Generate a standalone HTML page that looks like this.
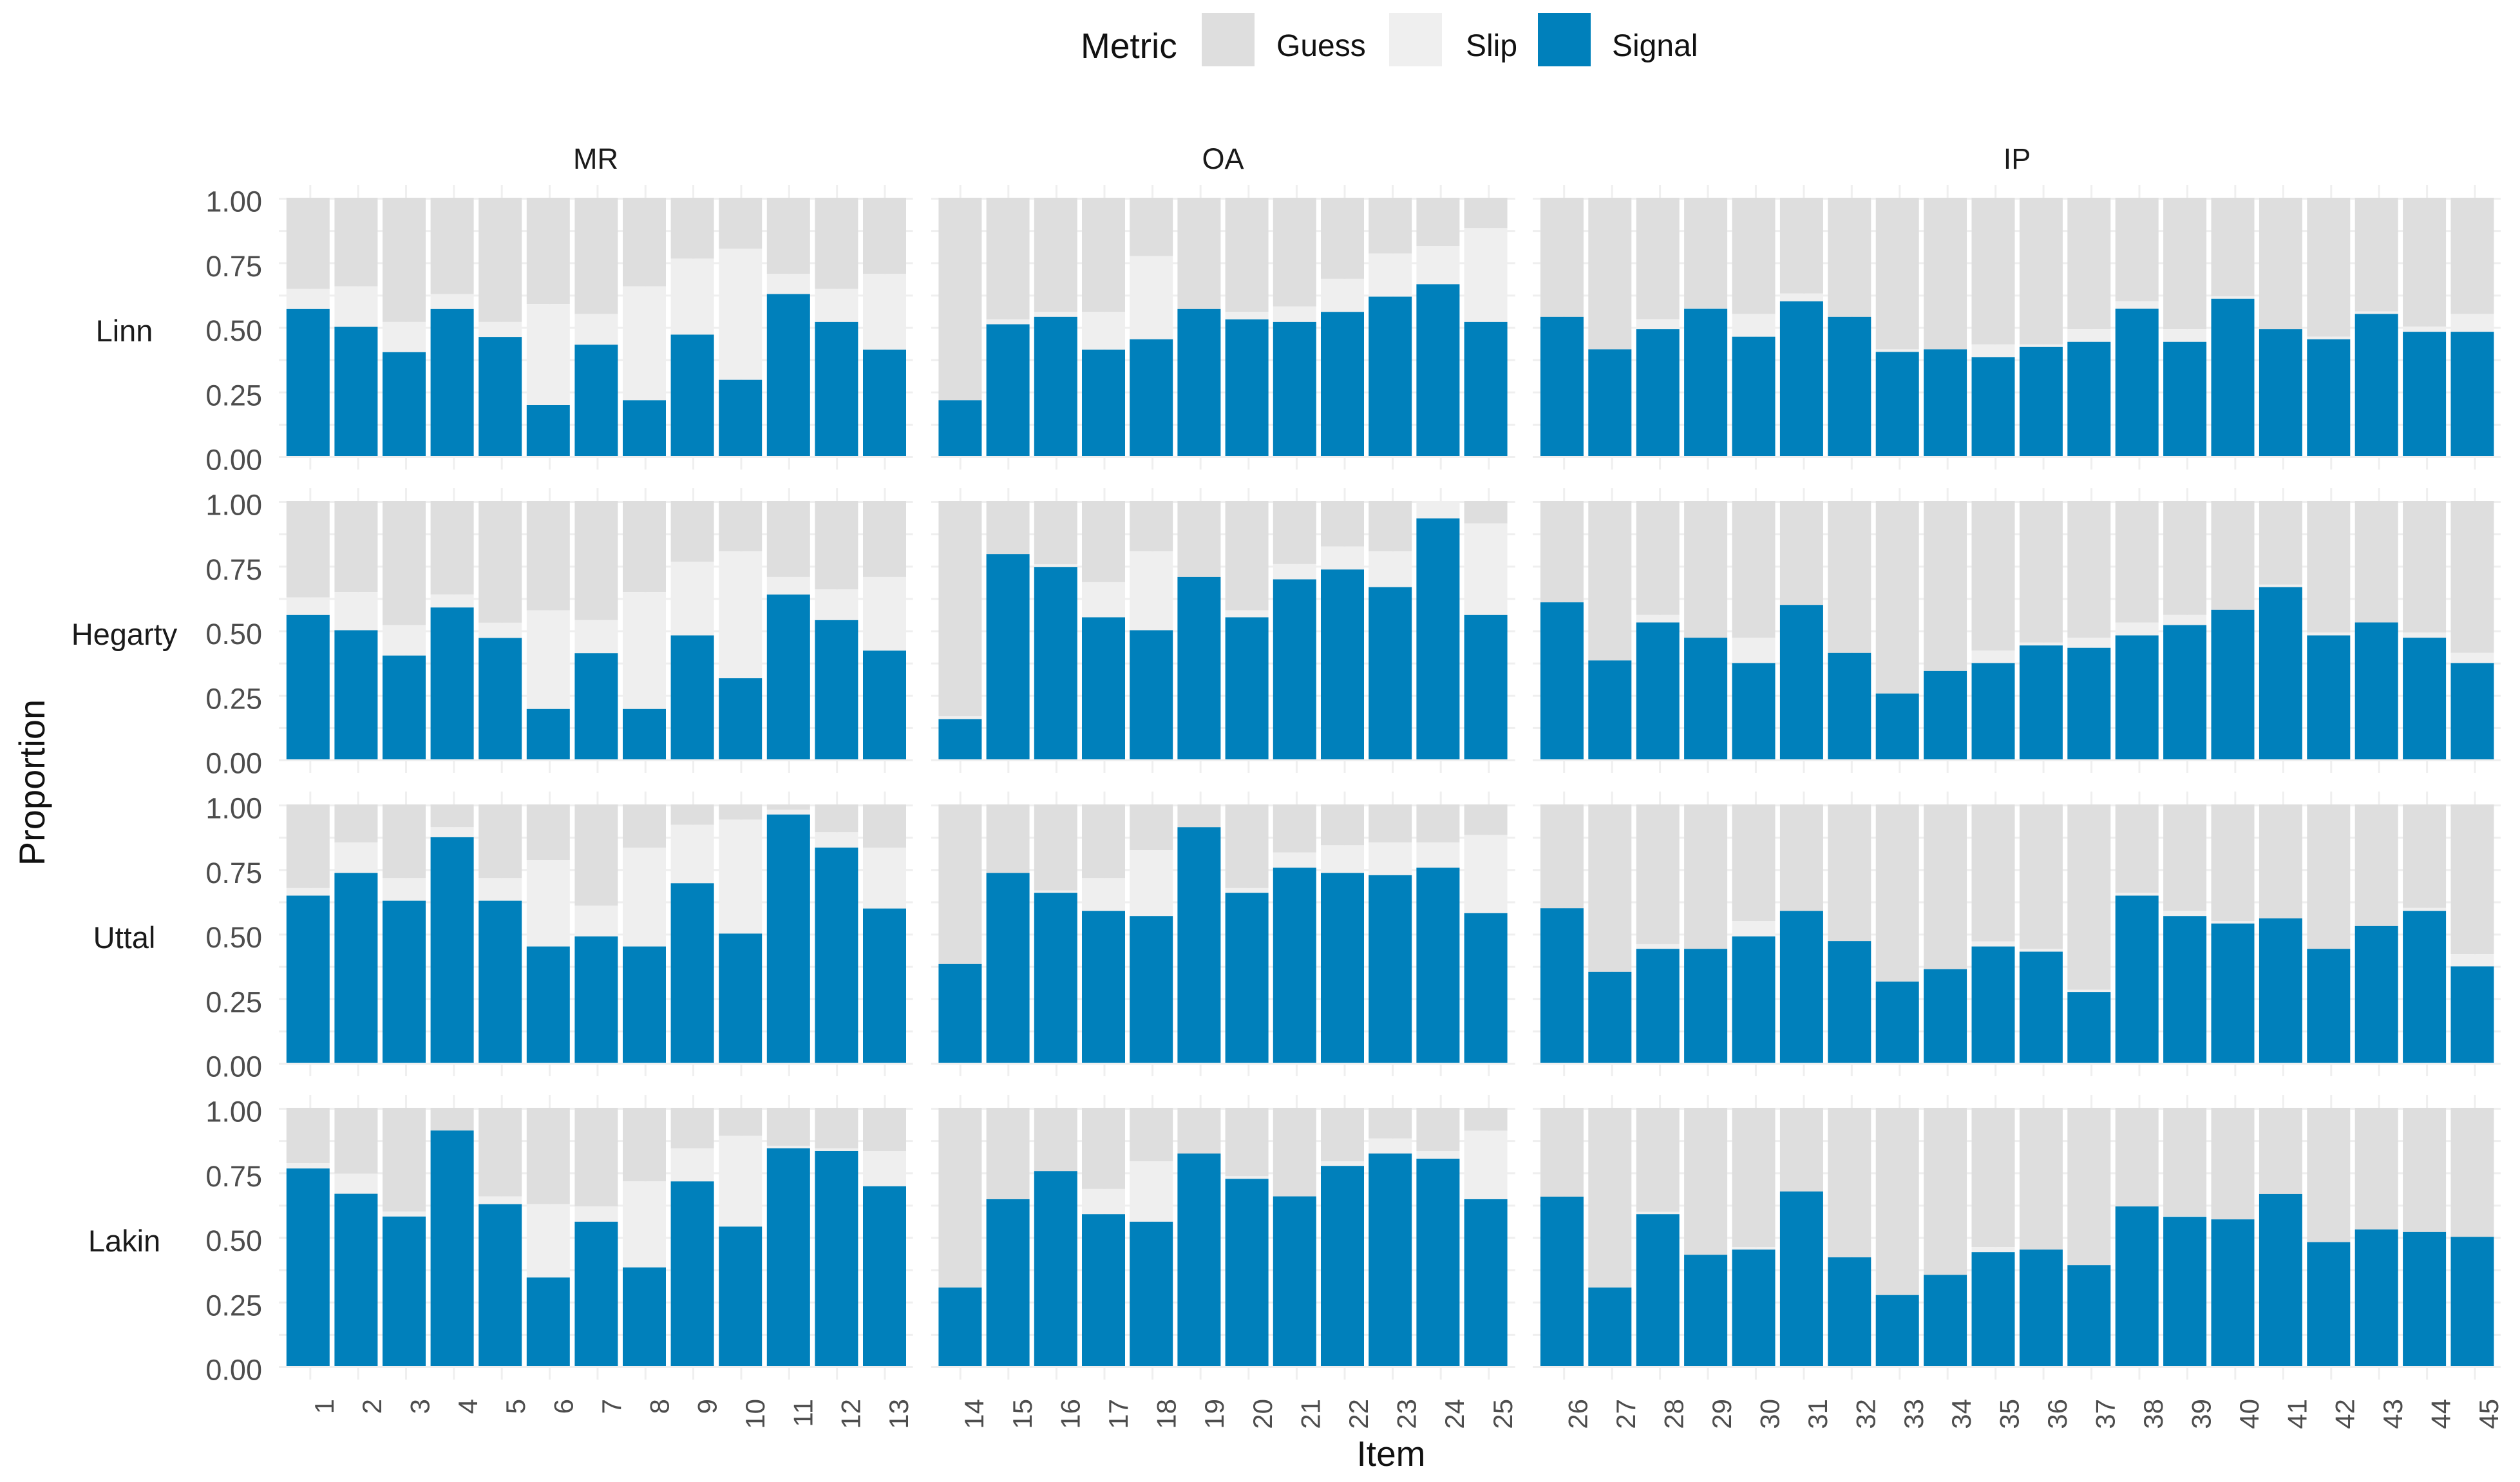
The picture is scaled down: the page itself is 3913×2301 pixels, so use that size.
<!DOCTYPE html>
<html lang="en">
<head>
<meta charset="utf-8">
<title>Proportion of Guess, Slip and Signal by item</title>
<style>
html,body{margin:0;padding:0;background:#fff;}
svg{display:block;font-family:"Liberation Sans",Arial,sans-serif;}
</style>
</head>
<body>
<svg id="chart" xmlns="http://www.w3.org/2000/svg" width="3913" height="2301" viewBox="0 0 3913 2301">
  <rect x="0" y="0" width="3913" height="2301" fill="#ffffff"/>
  <g id="panels"></g>
  <g id="ticks"></g>
  <g>
    <text x="1678" y="90" font-size="55" fill="#111">Metric</text>
    <rect x="1866" y="20" width="82" height="83" fill="#dedede"/>
    <text x="1982" y="87" font-size="48" fill="#111">Guess</text>
    <rect x="2157" y="20" width="82" height="83" fill="#efefef"/>
    <text x="2276" y="87" font-size="48" fill="#111">Slip</text>
    <rect x="2388" y="20" width="82" height="83" fill="#0080bb"/>
    <text x="2503" y="87" font-size="48" fill="#111">Signal</text>
  </g>
  <text x="925" y="262" font-size="45" fill="#1a1a1a" text-anchor="middle">MR</text>
  <text x="1899" y="262" font-size="45" fill="#1a1a1a" text-anchor="middle">OA</text>
  <text x="3132" y="262" font-size="45" fill="#1a1a1a" text-anchor="middle">IP</text>
  <text x="193" y="530" font-size="47" fill="#1a1a1a" text-anchor="middle">Linn</text>
  <text x="193" y="1001" font-size="47" fill="#1a1a1a" text-anchor="middle">Hegarty</text>
  <text x="193" y="1472" font-size="47" fill="#1a1a1a" text-anchor="middle">Uttal</text>
  <text x="193" y="1943" font-size="47" fill="#1a1a1a" text-anchor="middle">Lakin</text>
  <text transform="translate(69 1215) rotate(-90)" font-size="56" fill="#111" text-anchor="middle">Proportion</text>
  <text x="2160" y="2276" font-size="55" fill="#111" text-anchor="middle">Item</text>
</svg>
<script>
const items = [1,2,3,4,5,6,7,8,9,10,11,12,13,14,15,16,17,18,19,20,21,22,23,24,25,26,27,28,29,30,31,32,33,34,35,36,37,38,39,40,41,42,43,44,45];
const yTickLabels = ["0.00","0.25","0.50","0.75","1.00"];
const yTickValues = [0,0.25,0.5,0.75,1];
const yGridValues = [0,0.125,0.25,0.375,0.5,0.625,0.75,0.875,1];

const signalLinn = [.569,.50,.402,.569,.461,.197,.431,.216,.47,.295,.627,.519,.412,
  .216,.51,.539,.412,.452,.569,.529,.519,.558,.617,.665,.519,
  .539,.413,.491,.57,.462,.599,.539,.403,.413,.383,.422,.442,.57,.442,.609,.491,.452,.55,.481,.481];
const slipLinn = [.078,.157,.117,.058,.058,.391,.119,.441,.294,.508,.078,.128,.293,
  0,.019,.019,.146,.322,0,.029,.06,.128,.167,.148,.363,
  0,0,.039,.002,.088,.03,0,.01,0,.049,.01,.049,.029,.049,.009,0,.01,.01,.02,.069];

const signalHegarty = [.559,.5,.402,.588,.47,.195,.411,.195,.48,.314,.638,.539,.421,
  .156,.795,.745,.55,.5,.706,.55,.697,.735,.667,.933,.559,
  .608,.383,.53,.471,.373,.598,.412,.255,.342,.373,.441,.432,.48,.52,.579,.667,.48,.53,.471,.373];
const slipHegarty = [.068,.148,.118,.05,.059,.382,.128,.453,.285,.491,.068,.119,.285,
  .011,0,.01,.136,.305,0,.027,.059,.089,.138,.067,.355,
  0,0,.029,0,.098,0,0,0,0,.048,.011,.039,.05,.039,0,.01,.011,0,.02,.039];

const signalUttal = [.647,.735,.627,.873,.627,.45,.489,.45,.695,.5,.961,.833,.597,
  .382,.735,.658,.588,.568,.912,.658,.755,.735,.726,.755,.579,
  .598,.352,.441,.441,.489,.588,.471,.314,.362,.45,.43,.274,.647,.568,.539,.559,.441,.529,.588,.373];
const slipUttal = [.029,.118,.088,.039,.088,.335,.119,.383,.226,.441,.019,.059,.236,
  0,0,.009,.127,.255,0,.018,.059,.107,.127,.098,.303,
  0,0,.018,0,.059,0,0,0,0,.02,.011,.009,.011,.02,.009,0,0,0,.011,.048];

const signalLakin = [.765,.667,.579,.912,.627,.343,.559,.382,.715,.54,.843,.833,.696,
  .304,.646,.755,.588,.559,.823,.725,.657,.775,.823,.803,.646,
  .656,.304,.588,.431,.451,.676,.421,.275,.353,.441,.451,.391,.618,.578,.568,.666,.48,.529,.519,.5];
const slipLakin = [.02,.078,.019,0,.03,.284,.059,.333,.128,.351,.01,.01,.137,
  0,0,0,.098,.234,0,.01,0,.018,.058,.03,.265,
  0,0,.009,0,.01,0,0,0,0,.02,0,0,0,.003,0,0,0,0,0,0];

const rowNames = ["linn","hegarty","uttal","lakin"];
const rowSignal = [signalLinn,signalHegarty,signalUttal,signalLakin];
const rowSlip = [slipLinn,slipHegarty,slipUttal,slipLakin];

/* layout */
const NS = "http://www.w3.org/2000/svg";
const rowTop = [307,778,1249,1720];
const rowH = 401;
const panels = [
  {name:"mr",first:0,count:13,left:433,right:1417.6,barStart:444.8,barStep:74.6,gridStart:481.8,gridStep:74.35},
  {name:"oa",first:13,count:12,left:1446,right:2352.8,barStart:1457.4,barStep:74.2,gridStart:1491.2,gridStep:74.6},
  {name:"ip",first:25,count:20,left:2380,right:3883,barStart:2391.9,barStep:74.4,gridStart:2428.7,gridStep:74.44}
];
const BAR_W = 67;
const COLORS = {guess:"#dedede",slip:"#efefef",signal:"#0080bb",grid:"#efefef"};

function yScale(r,v){ return rowTop[r] + rowH*(1-v); }
function barX(p,k){ return p.barStart + p.barStep*k; }
function gridX(p,k){ return p.gridStart + p.gridStep*k; }

function rect(parent,x,y,w,h,fill){
  const el = document.createElementNS(NS,"rect");
  el.setAttribute("x",x.toFixed(2));
  el.setAttribute("y",y.toFixed(2));
  el.setAttribute("width",w.toFixed(2));
  el.setAttribute("height",Math.max(0,h).toFixed(2));
  el.setAttribute("fill",fill);
  parent.appendChild(el);
  return el;
}

const panelsG = document.getElementById("panels");
const ticksG = document.getElementById("ticks");

rowNames.forEach(function(rowName,r){
  panels.forEach(function(p){
    const g = document.createElementNS(NS,"g");
    
    
    panelsG.appendChild(g);

    yGridValues.forEach(function(v){
      const line = rect(g,p.left,yScale(r,v),p.right-p.left,3,COLORS.grid);
      
      
    });
    for(let k=0;k<p.count;k++){
      const line = rect(g,gridX(p,k)-1.5,yScale(r,1)-20,3,rowH+41,COLORS.grid);
      
      
    }
    for(let k=0;k<p.count;k++){
      const idx = p.first+k;
      const sig = rowSignal[r][idx];
      const slip = rowSlip[r][idx];
      const x = barX(p,k);
      const guessBar = rect(g,x,yScale(r,1),BAR_W,yScale(r,sig+slip)-yScale(r,1),COLORS.guess);
      
      
      const slipBar = rect(g,x,yScale(r,sig+slip),BAR_W,yScale(r,sig)-yScale(r,sig+slip),COLORS.slip);
      
      
      const sigBar = rect(g,x,yScale(r,sig),BAR_W,yScale(r,0)-yScale(r,sig),COLORS.signal);
      
      
    }
  });

  yTickValues.forEach(function(v,i){
    const t = document.createElementNS(NS,"text");
    
    
    t.setAttribute("x","407");
    t.setAttribute("y",(yScale(r,v)+21.5).toFixed(2));
    t.setAttribute("font-size","45");
    t.setAttribute("fill","#4d4d4d");
    t.setAttribute("text-anchor","end");
    t.textContent = yTickLabels[i];
    ticksG.appendChild(t);
  });
});

panels.forEach(function(p){
  for(let k=0;k<p.count;k++){
    const t = document.createElementNS(NS,"text");
    
    
    t.setAttribute("transform","translate("+(gridX(p,k)+36).toFixed(2)+" 2172) rotate(-90)");
    t.setAttribute("font-size","42");
    t.setAttribute("fill","#4d4d4d");
    t.setAttribute("text-anchor","end");
    t.textContent = String(items[p.first+k]);
    ticksG.appendChild(t);
  }
});
</script>
</body>
</html>
